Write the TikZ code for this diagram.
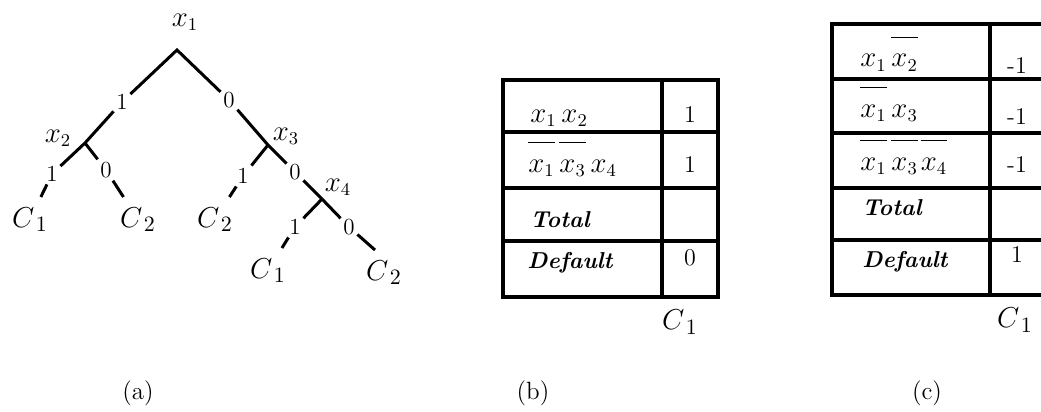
\documentclass[tikz,border=0pt]{standalone}
\usepackage{amsmath}
\usepackage{amssymb}
\usepackage{tikz}

\newcommand{\negvar}[1]{\overline{\rule{0pt}{13pt}#1}}

\begin{document}
\begin{tikzpicture}[x=0.5pt, y=-0.5pt,
        var/.style = {inner sep=1pt, font=\fontsize{13.5}{15}\selectfont},
        bit/.style = {inner sep=1.2pt, font=\fontsize{11.5}{13}\selectfont},
        leaf/.style = {anchor=north, inner sep=5pt, font=\fontsize{15.5}{18}\selectfont},
        branch/.style = {line width=1.5pt},
        box/.style = {line width=1.9pt},
        rule/.style = {anchor=base west, inner sep=0pt, font=\fontsize{13.5}{15}\selectfont},
        word/.style = {anchor=base west, inner sep=0pt, font=\fontsize{11.5}{13}\selectfont\bfseries\itshape},
        val/.style = {anchor=base, inner sep=0pt, font=\fontsize{12}{14}\selectfont},
        cls/.style = {inner sep=0pt, font=\fontsize{15.5}{18}\selectfont},
        subcap/.style = {inner sep=0pt, font=\fontsize{12.5}{14}\selectfont}]
        \useasboundingbox (0,0) rectangle (1041,412);
        % (a) the tree
        \coordinate (root) at (177,50);
        \coordinate (j2) at (85,143);
        \coordinate (j3) at (268,145);
        \coordinate (j4) at (322,199);
        \node[var] (x1) at (185,22) {$x_1$};
        \node[var] (x2) at (58,138) {$x_2$};
        \node[var] (x3) at (286,136) {$x_3$};
        \node[var] (x4) at (338,187) {$x_4$};
        \node[bit] (b1) at (122,102) {1};
        \node[bit] (b2) at (229,100) {0};
        \node[bit] (b3) at (52,174) {1};
        \node[bit] (b4) at (106,170) {0};
        \node[bit] (b5) at (243,176) {1};
        \node[bit] (b6) at (295,172) {0};
        \node[bit] (b7) at (295,227) {1};
        \node[bit] (b8) at (349,227) {0};
        \node[leaf] (l1) at (30,197) {$C_{\,1}$};
        \node[leaf] (l2) at (138,197) {$C_{\,2}$};
        \node[leaf] (l3) at (215,197) {$C_{\,2}$};
        \node[leaf] (l4) at (268,248) {$C_{\,1}$};
        \node[leaf] (l5) at (384,250) {$C_{\,2}$};
        \draw[branch] (j2) -- (b1) -- (root) -- (b2) -- (j3) -- (b6) -- (j4);
        \draw[branch] (j2) -- (b3) -- (l1);
        \draw[branch] (j2) -- (b4) -- (l2);
        \draw[branch] (j3) -- (b5) -- (l3);
        \draw[branch] (j4) -- (b7) -- (l4);
        \draw[branch] (j4) -- (b8) -- ([xshift=-4.5pt]l5.north);
        % (b) rules for C1
        \draw[box] (503,80) rectangle (718,297);
        \draw[box] (662,80) -- (662,297);
        \foreach \y in {132,188,241}
            \draw[box] (503,\y) -- (718,\y);
        \node[rule] (br1) at (530,122) {$x_1\,x_2$};
        \node[rule] (br2) at (528,172) {$\negvar{x_1}\,\negvar{x_3}\,x_4$};
        \node[word] (btot) at (530,227) {Total};
        \node[word] (bdef) at (527,268) {Default};
        \node[val] (bv1) at (690,122) {1};
        \node[val] (bv2) at (690,172) {1};
        \node[val] (bv4) at (690,265) {0};
        \node[cls] (bcls) at (680,322) {$C_{\,1}$};
        % (c) rules for C2
        \draw[box] (1041,24) -- (832,24) -- (832,295) -- (1041,295);
        \draw[box] (990,24) -- (990,295);
        \foreach \y in {79,133,188,240}
            \draw[box] (832,\y) -- (1041,\y);
        \node[rule] (cr1) at (860,67) {$x_1\,\negvar{x_2}$};
        \node[rule] (cr2) at (860,117) {$\negvar{x_1}\,x_3$};
        \node[rule] (cr3) at (860,170) {$\negvar{x_1}\,\negvar{x_3}\mkern2mu\negvar{x_4}$};
        \node[word] (ctot) at (862,215) {Total};
        \node[word] (cdef) at (862,267) {Default};
        \node[val] (cv1) at (1017,73) {-1};
        \node[val] (cv2) at (1017,125) {-1};
        \node[val] (cv3) at (1017,172) {-1};
        \node[val] (cv5) at (1017,262) {1};
        \node[cls] (ccls) at (1015,320) {$C_{\,1}$};
        % captions
        \node[subcap] (capa) at (138,393) {(a)};
        \node[subcap] (capb) at (533,393) {(b)};
        \node[subcap] (capc) at (927,393) {(c)};
\end{tikzpicture}
\end{document}
